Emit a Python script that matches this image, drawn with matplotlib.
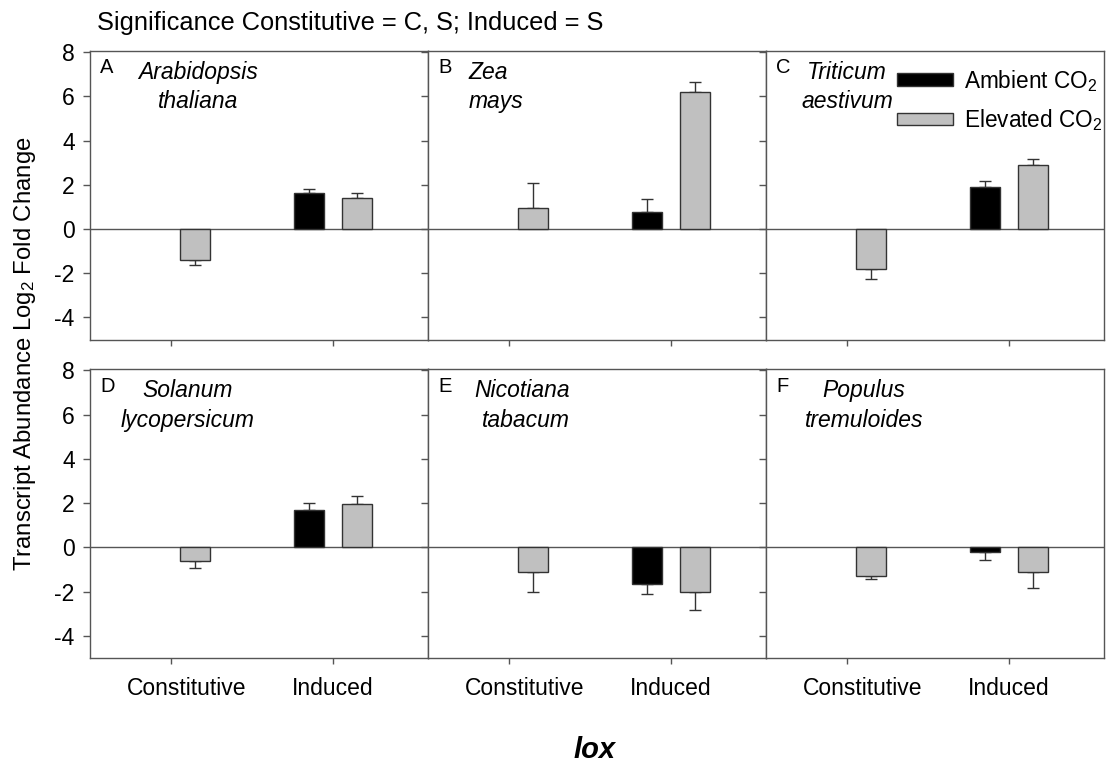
import numpy as np
import matplotlib
matplotlib.use("Agg")
import matplotlib.pyplot as plt
from matplotlib.patches import Patch
from matplotlib.transforms import ScaledTranslation

plt.rcParams['font.family'] = ['Liberation Sans', 'DejaVu Sans']
plt.rcParams['mathtext.fontset'] = 'custom'
plt.rcParams['mathtext.rm'] = 'Liberation Sans'
plt.rcParams['mathtext.it'] = 'Liberation Sans:italic'
plt.rcParams['axes.unicode_minus'] = False

# ---- data ----
panel_letters = ["A", "B", "C", "D", "E", "F"]
species = ["Arabidopsis\nthaliana", "Zea\nmays", "Triticum\naestivum",
           "Solanum\nlycopersicum", "Nicotiana\ntabacum", "Populus\ntremuloides"]
categories = ["Constitutive", "Induced"]
elevated_const = [-1.38, 0.94, -1.82, -0.60, -1.11, -1.30]
elevated_const_err = [0.26, 1.14, 0.42, 0.33, 0.89, 0.14]
ambient_ind = [1.62, 0.79, 1.88, 1.70, -1.67, -0.23]
ambient_ind_err = [0.20, 0.57, 0.29, 0.30, 0.45, 0.32]
elevated_ind = [1.39, 6.21, 2.89, 1.98, -2.00, -1.13]
elevated_ind_err = [0.26, 0.46, 0.29, 0.34, 0.81, 0.69]
yticks = [-4, -2, 0, 2, 4, 6, 8]
title = "Significance Constitutive = C, S; Induced = S"
ylabel = "Transcript Abundance Log$_2$ Fold Change"
gene = "lox"

# ---- layout ----
W, H = 1106, 766
fig = plt.figure(figsize=(W / 100, H / 100), dpi=100)
left_px, right_px = 90, 1104
col_w = (right_px - left_px) / 3
rows_px = [(51, 339.6), (369.3, 658)]

edge = '#333333'
spine_c = '#555555'
gray = '#c0c0c0'
bw = 0.185
off = 0.15

# species label placement (axes fraction x, ha)
sp_pos = [(0.32, 'center'), (0.12, 'left'), (0.24, 'center'),
          (0.29, 'center'), (0.42, 'right'), (0.29, 'center')]

def one_sided(v, e):
    return [[e], [0]] if v < 0 else [[0], [e]]

for i in range(6):
    r, c = divmod(i, 3)
    top, bot = rows_px[r]
    ax = fig.add_axes([(left_px + c * col_w) / W, 1 - bot / H, col_w / W, (bot - top) / H])
    ax.set_xlim(-0.5, 1.585)
    ax.set_ylim(-5, 8.05)
    x = np.arange(len(categories))
    ax.axhline(0, color='#555555', lw=1.0, zorder=1)
    # constitutive elevated
    ax.errorbar(x[0] + off, elevated_const[i], yerr=one_sided(elevated_const[i], elevated_const_err[i]),
                fmt='none', ecolor=edge, elinewidth=1, capsize=4, capthick=1, zorder=2)
    ax.bar(x[0] + off, elevated_const[i], width=bw, color=gray, edgecolor=edge, lw=1, zorder=3)
    # induced ambient
    ax.errorbar(x[1] - off, ambient_ind[i], yerr=one_sided(ambient_ind[i], ambient_ind_err[i]),
                fmt='none', ecolor=edge, elinewidth=1, capsize=4, capthick=1, zorder=2)
    ax.bar(x[1] - off, ambient_ind[i], width=bw, color='black', edgecolor=edge, lw=1, zorder=3)
    # induced elevated
    ax.errorbar(x[1] + off, elevated_ind[i], yerr=one_sided(elevated_ind[i], elevated_ind_err[i]),
                fmt='none', ecolor=edge, elinewidth=1, capsize=4, capthick=1, zorder=2)
    ax.bar(x[1] + off, elevated_ind[i], width=bw, color=gray, edgecolor=edge, lw=1, zorder=3)

    ax.set_xticks(x)
    ax.set_yticks(yticks)
    ax.tick_params(axis='both', direction='out', length=5, width=1, color=spine_c)
    ax.tick_params(axis='y', labelsize=16.5, pad=6)
    ax.tick_params(axis='x', labelsize=16.5, pad=10, length=4)
    if r == 0:
        ax.set_xticklabels([])
    else:
        ax.set_xticklabels(categories)
        lab = ax.get_xticklabels()[0]
        lab.set_transform(lab.get_transform() + ScaledTranslation(0.16, 0, fig.dpi_scale_trans))
    if c != 0:
        ax.set_yticklabels([])
    for s in ax.spines.values():
        s.set_color(spine_c)
        s.set_linewidth(1)

    ax.text(0.03, 0.975, panel_letters[i], transform=ax.transAxes, fontsize=14.5,
            ha='left', va='top')
    sx, sha = sp_pos[i]
    ax.text(sx, 0.965, species[i], transform=ax.transAxes, fontsize=16.5,
            style='italic', ha=sha, va='top', multialignment=sha, linespacing=1.35)

    if i == 2:
        handles = [Patch(facecolor='black', edgecolor=edge, lw=1),
                   Patch(facecolor=gray, edgecolor=edge, lw=1)]
        ax.legend(handles, ["Ambient CO$_2$", "Elevated CO$_2$"], frameon=False,
                  fontsize=16.3, loc='upper left', bbox_to_anchor=(0.375, 0.958),
                  borderaxespad=0.0, borderpad=0.2, handlelength=2.45, handleheight=0.45,
                  handletextpad=0.5, labelspacing=0.6)

fig.text(97 / W, 1 - 30 / H, title, fontsize=18.3, ha='left', va='baseline')
fig.text(25 / W, 1 - 354 / H, ylabel, fontsize=17.2, rotation=90, ha='center', va='center')
fig.text(595 / W, 1 - 750 / H, gene, fontsize=21, fontweight='bold', style='italic',
         ha='center', va='center')

fig.savefig("out.png", dpi=100)
